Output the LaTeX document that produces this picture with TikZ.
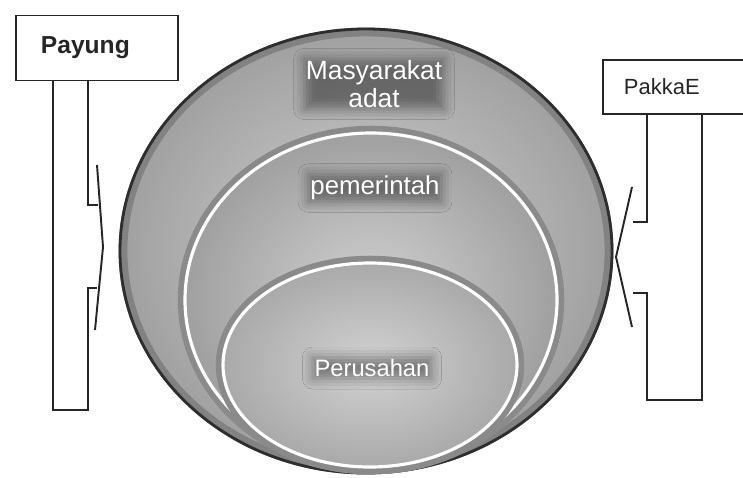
\documentclass[tikz,border=0pt]{standalone}
\usepackage{fontspec}
\usepackage{xcolor}
\usepackage{tikz}
\usetikzlibrary{shapes,positioning,calc,shadows.blur}
\newfontfamily\labelfont{Liberation Sans}
\definecolor{ink}{HTML}{262626}
\definecolor{rim}{HTML}{2E2E2E}
\definecolor{haze}{HTML}{8A8A8A}
\definecolor{paper}{HTML}{D2D2D2}
\definecolor{dusk}{HTML}{A0A0A0}
\tikzset{
  sign/.style={rectangle,draw=ink,line width=1.1pt,fill=white,anchor=west,
    align=left,text=ink,font=\labelfont},
  post/.style={draw=ink,line width=1.1pt,line join=miter},
  ring/.style={draw=white,line width=1.8pt},
  halo/.style={draw=haze,line width=6pt},
  lbl/.style={text=white,inner sep=1pt,align=center,
    blur shadow={shadow xshift=0pt,shadow yshift=0pt,
      shadow blur radius=6pt,shadow opacity=40}},
}

\begin{document}
\begin{tikzpicture}[x=0.02cm,y=-0.02cm]
  \useasboundingbox (0,0) rectangle (743,477);

  \shade[inner color=paper,outer color=dusk] (366,251) ellipse [x radius=246,y radius=222];
  \draw[draw=rim!60,line width=5pt] (366,251) ellipse [x radius=243,y radius=219];
  \draw[draw=rim,line width=1.6pt] (366,251) ellipse [x radius=246,y radius=222];

  \draw[halo] (371,300) ellipse [x radius=188,y radius=169];
  \shade[inner color=paper,outer color=dusk] (371,300) ellipse [x radius=186,y radius=167];
  \draw[ring] (371,300) ellipse [x radius=186,y radius=167];

  \draw[halo] (370,365) ellipse [x radius=149,y radius=104];
  \shade[inner color=paper,outer color=dusk!90] (370,365) ellipse [x radius=147,y radius=102];
  \draw[ring] (370,365) ellipse [x radius=147,y radius=102];

  \node[lbl,font=\labelfont\fontsize{15}{15.5}\selectfont] (MA) at (374,84) {Masyarakat\\adat};
  \node[lbl,font=\labelfont\fontsize{14.7}{15}\selectfont] (PM) at (375,188) {pemerintah};
  \node[lbl,font=\labelfont\fontsize{13.5}{14}\selectfont] (PR) at (372,368) {Perusahan};

  \node[sign,minimum height=1.3cm,text width=2.24cm,inner xsep=0.5cm,
    font=\labelfont\bfseries\fontsize{14}{14}\selectfont] (PY) at (15,48) {Payung};
  \draw[post] (53,80.5) -- (53,410) -- (88,410) -- (88,288) -- (97,288);
  \draw[post] (88,80.5) -- (88,205) -- (98,205);
  \draw[post] (97,165) -- (103,247) -- (95,330);

  \node[sign,minimum height=1.08cm,text width=2.32cm,inner xsep=0.42cm,
    font=\labelfont\fontsize{12.5}{13}\selectfont] (PK) at (602,87) {PakkaE};
  \draw[post] (647,114) -- (647,222) -- (633,222);
  \draw[post] (702,114) -- (702,400) -- (647,400) -- (647,293) -- (633,293);
  \draw[post] (632,187) -- (616,257) -- (632,327);
\end{tikzpicture}
\end{document}
